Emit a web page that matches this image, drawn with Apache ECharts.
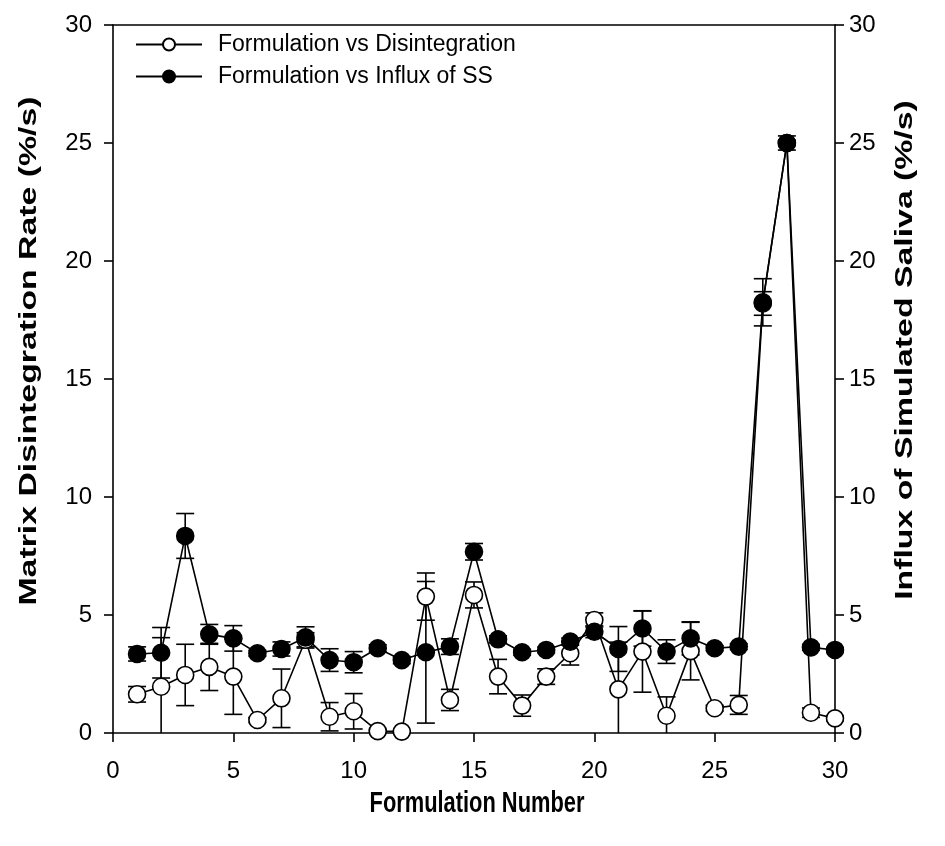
<!DOCTYPE html>
<html>
<head>
<meta charset="utf-8">
<script src="https://cdn.jsdelivr.net/npm/echarts@6/dist/echarts.min.js"></script>
<style>
html,body{margin:0;padding:0;background:#fff;}
#chart{width:945px;height:846px;}
</style>
</head>
<body>
<div id="chart"></div>
<script>
// ---- data ----
var formulation = [1,2,3,4,5,6,7,8,9,10,11,12,13,14,15,16,17,18,19,20,21,22,23,24,25,26,27,28,29,30];
var disintegration = [1.64,1.96,2.46,2.8,2.39,0.55,1.47,3.95,0.69,0.92,0.08,0.06,5.78,1.4,5.85,2.39,1.16,2.39,3.38,4.79,1.85,3.45,0.73,3.47,1.05,1.19,18.2,25.0,0.86,0.62];
var disintegrationErr = [0.33,2.08,1.3,1.0,1.6,0.1,1.24,0.3,0.6,0.75,0.05,0.05,1.0,0.45,0.55,0.73,0.45,0.33,0.5,0.3,2.0,1.72,0.8,1.22,0.12,0.4,0.5,0.3,0.2,0.1];
var influx = [3.35,3.4,8.35,4.18,4.01,3.38,3.56,4.05,3.09,3.0,3.59,3.09,3.42,3.66,7.68,3.97,3.42,3.52,3.87,4.29,3.56,4.43,3.45,4.01,3.59,3.66,18.25,25.0,3.63,3.52];
var influxErr = [0.3,1.07,0.95,0.42,0.54,0.12,0.3,0.45,0.48,0.45,0.15,0.15,3.0,0.33,0.35,0.15,0.12,0.12,0.15,0.25,0.95,0.75,0.5,0.7,0.1,0.12,1.0,0.1,0.12,0.1];
var seriesNames = ['Formulation vs Disintegration','Formulation vs Influx of SS'];
var xTitle = 'Formulation Number';
var yLeftTitle = 'Matrix Disintegration Rate (%/s)';
var yRightTitle = 'Influx of Simulated Saliva (%/s)';

var FONT = '"Liberation Sans", Arial, sans-serif';

function pairs(ys){ return formulation.map(function(x,i){ return [x, ys[i]]; }); }
function errData(ys, es){ return formulation.map(function(x,i){ return [x, ys[i], es[i]]; }); }

function errRender(params, api){
  var x = api.value(0), y = api.value(1), e = api.value(2);
  var hi = y + e, lo = y - e;
  var capHi = true, capLo = true;
  if (lo < 0) { lo = 0; capLo = false; }
  if (hi > 30) { hi = 30; capHi = false; }
  var pHi = api.coord([x, hi]);
  var pLo = api.coord([x, lo]);
  var w = 9;
  var st = {stroke:'#000', lineWidth:1.6};
  var children = [{type:'line', shape:{x1:pHi[0],y1:pHi[1],x2:pLo[0],y2:pLo[1]}, style:st}];
  if (capHi) children.push({type:'line', shape:{x1:pHi[0]-w,y1:pHi[1],x2:pHi[0]+w,y2:pHi[1]}, style:st});
  if (capLo) children.push({type:'line', shape:{x1:pLo[0]-w,y1:pLo[1],x2:pLo[0]+w,y2:pLo[1]}, style:st});
  return {type:'group', children:children};
}

var chart = echarts.init(document.getElementById('chart'), null, {renderer:'canvas'});
var axisLine = {show:true, onZero:false, lineStyle:{color:'#000', width:1.6}};
var tickStyle = {show:true, inside:false, length:9, lineStyle:{color:'#000', width:1.6}};
var labelStyle = {color:'#000', fontSize:24, fontFamily:FONT};

function titleText(text, x, y, rot, sx, sy){
  return {type:'text', x:x, y:y, rotation:rot, scaleX:sx, scaleY:sy, silent:true,
    style:{text:text, fill:'#000', font:'bold 23px ' + FONT,
      textAlign:'center', textVerticalAlign:'middle', align:'center', verticalAlign:'middle'}};
}

chart.setOption({
  animation:false,
  backgroundColor:'#fff',
  grid:{left:113, right:110, top:25, bottom:113, containLabel:false},
  legend:{
    left:130, top:28, orient:'vertical', itemGap:9, itemWidth:66, itemHeight:15,
    textStyle:{color:'#000', fontSize:23, fontFamily:FONT, padding:[0,0,0,11]},
    data:seriesNames
  },
  graphic:[
    titleText(xTitle, 477, 804, 0, 0.95, 1.3),
    titleText(yLeftTitle, 30, 351, Math.PI/2, 1.47, 1),
    titleText(yRightTitle, 906, 350, Math.PI/2, 1.47, 1)
  ],
  xAxis:[
    {type:'value', min:0, max:30, interval:5, position:'bottom',
     axisLine:axisLine, axisTick:tickStyle, axisLabel:Object.assign({margin:26}, labelStyle),
     splitLine:{show:false}},
    {type:'value', min:0, max:30, interval:5, position:'top',
     axisLine:axisLine, axisTick:{show:false}, axisLabel:{show:false}, splitLine:{show:false}}
  ],
  yAxis:[
    {type:'value', min:0, max:30, interval:5, position:'left',
     axisLine:axisLine, axisTick:tickStyle, axisLabel:Object.assign({margin:21}, labelStyle),
     splitLine:{show:false}},
    {type:'value', min:0, max:30, interval:5, position:'right',
     axisLine:axisLine, axisTick:tickStyle, axisLabel:Object.assign({margin:14}, labelStyle),
     splitLine:{show:false}}
  ],
  series:[
    {type:'custom', name:'errD', xAxisIndex:0, yAxisIndex:0, renderItem:errRender,
     data:errData(disintegration, disintegrationErr), z:1, silent:true},
    {type:'custom', name:'errI', xAxisIndex:0, yAxisIndex:1, renderItem:errRender,
     data:errData(influx, influxErr), z:1, silent:true},
    {type:'line', name:seriesNames[0], xAxisIndex:0, yAxisIndex:0,
     data:pairs(disintegration), symbol:'circle', symbolSize:17, showAllSymbol:true,
     lineStyle:{color:'#000', width:1.6}, itemStyle:{color:'#fff', borderColor:'#000', borderWidth:1.6},
     z:3},
    {type:'line', name:seriesNames[1], xAxisIndex:0, yAxisIndex:1,
     data:pairs(influx), symbol:'circle', symbolSize:17, showAllSymbol:true,
     lineStyle:{color:'#000', width:1.6}, itemStyle:{color:'#000', borderColor:'#000', borderWidth:1.6},
     z:4}
  ]
});
</script>
</body>
</html>
